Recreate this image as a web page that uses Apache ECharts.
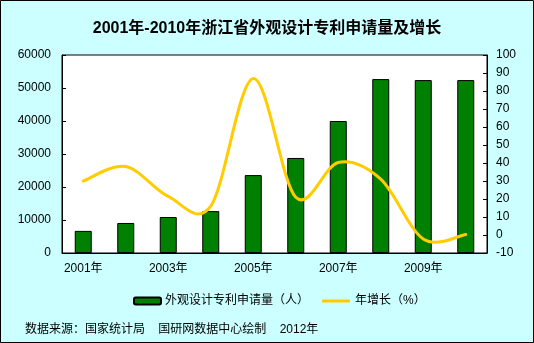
<!DOCTYPE html>
<html><head><meta charset="utf-8">
<script src="https://cdn.jsdelivr.net/npm/echarts@6/dist/echarts.min.js"></script>
<style>html,body{margin:0;padding:0;background:#CCFFFF}#c{width:534px;height:343px}</style>
</head><body><div id="c"></div>
<script>
var categories = ['2001年','2002年','2003年','2004年','2005年','2006年','2007年','2008年','2009年','2010年'];
var applications = [6700, 9100, 10900, 12700, 23600, 28800, 40000, 52700, 52400, 52400];
var growth = [30, 38, 21.4, 16, 87, 21, 40.3, 31, -2.2, 0.3];
var leftTicks = {min: 0, max: 60000, interval: 10000};
var rightTicks = {min: -10, max: 100, interval: 10};
var FONT = "'Liberation Sans','Noto Sans CJK SC',sans-serif";
var LINE_COLOR = '#FFCC00';
var chart = echarts.init(document.getElementById('c'), null, {renderer: 'canvas'});

// Excel-style smoothed line (Catmull-Rom -> cubic Bezier) through points placed by the axes
function renderSmooth(params, api) {
  if (params.dataIndex !== 0) return {type: 'group', children: []};
  var n = growth.length;
  var pts = [];
  for (var i = 0; i < n; i++) pts.push(api.coord([i, growth[i]]));
  var d = 'M' + pts[0][0] + ',' + pts[0][1];
  for (var j = 0; j < n - 1; j++) {
    var p0 = pts[Math.max(j - 1, 0)], p1 = pts[j], p2 = pts[j + 1], p3 = pts[Math.min(j + 2, n - 1)];
    var c1x = p1[0] + (p2[0] - p0[0]) / 6, c1y = p1[1] + (p2[1] - p0[1]) / 6;
    var c2x = p2[0] - (p3[0] - p1[0]) / 6, c2y = p2[1] - (p3[1] - p1[1]) / 6;
    d += ' C' + c1x + ',' + c1y + ' ' + c2x + ',' + c2y + ' ' + p2[0] + ',' + p2[1];
  }
  return {type: 'path', shape: {pathData: d},
    style: {fill: 'none', stroke: LINE_COLOR, lineWidth: 3, lineJoin: 'round', lineCap: 'round'}};
}

chart.setOption({
  backgroundColor: '#CCFFFF',
  animation: false,
  textStyle: {fontFamily: FONT, color: '#000'},
  title: [
    {text: '2001年-2010年浙江省外观设计专利申请量及增长', left: 'center', top: 16,
     textStyle: {fontFamily: FONT, fontSize: 16, fontWeight: 'bold', color: '#000'}},
    {text: '数据来源：国家统计局    国研网数据中心绘制    2012年', left: 20, top: 319,
     textStyle: {fontFamily: FONT, fontSize: 12, fontWeight: 'normal', color: '#000'}}
  ],
  graphic: [{type: 'rect', shape: {x: 0.5, y: 0.5, width: 533, height: 342},
    style: {fill: 'none', stroke: '#000', lineWidth: 1}, silent: true}],
  legend: [
    {data: ['外观设计专利申请量（人）'], left: 128, top: 290, itemWidth: 27, itemHeight: 7, itemGap: 5,
     textStyle: {fontFamily: FONT, fontSize: 12, color: '#000', padding: [0,0,0,-1]}},
    {data: [{name: '年增长（%）', icon: 'rect', itemStyle: {color: LINE_COLOR}}], left: 317, top: 290,
     itemWidth: 28, itemHeight: 3,
     textStyle: {fontFamily: FONT, fontSize: 12, color: '#000'}}
  ],
  grid: {left: 62, top: 55, width: 425, height: 198, show: true, backgroundColor: '#fff',
    borderColor: '#000', borderWidth: 1},
  xAxis: {
    type: 'category', data: categories, boundaryGap: true,
    axisLine: {lineStyle: {color: '#000', width: 1}},
    axisTick: {inside: true, length: 3, interval: 0, lineStyle: {color: '#000'}},
    axisLabel: {interval: 1, margin: 10, fontSize: 12, color: '#000', fontFamily: FONT},
    splitLine: {show: false}
  },
  yAxis: [
    {type: 'value', min: leftTicks.min, max: leftTicks.max, interval: leftTicks.interval,
     axisLine: {show: true, lineStyle: {color: '#000'}},
     axisTick: {show: true, inside: true, length: 4, lineStyle: {color: '#000'}},
     axisLabel: {margin: 11, fontSize: 12, color: '#000', fontFamily: FONT,
       formatter: function (v) { return String(v); }},
     splitLine: {show: false}},
    {type: 'value', min: rightTicks.min, max: rightTicks.max, interval: rightTicks.interval,
     axisLine: {show: true, lineStyle: {color: '#000'}},
     axisTick: {show: true, inside: true, length: 4, lineStyle: {color: '#000'}},
     axisLabel: {margin: 9, fontSize: 12, color: '#000', fontFamily: FONT,
       formatter: function (v) { return String(v); }},
     splitLine: {show: false}}
  ],
  series: [
    {name: '外观设计专利申请量（人）', type: 'bar', data: applications, barWidth: 17, yAxisIndex: 0,
     z: 2, itemStyle: {color: '#008000', borderColor: '#000', borderWidth: 1}},
    {name: '年增长（%）', type: 'custom', yAxisIndex: 1, z: 10,
     data: growth.map(function (v, i) { return [i, v]; }),
     encode: {x: 0, y: 1},
     itemStyle: {color: LINE_COLOR},
     renderItem: renderSmooth}
  ]
});
</script></body></html>
